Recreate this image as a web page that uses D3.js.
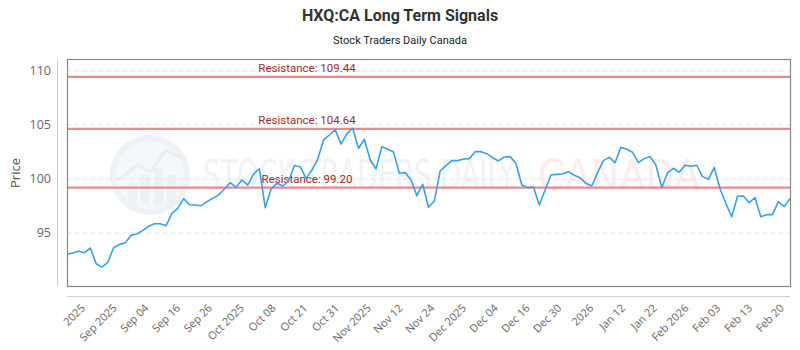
<!DOCTYPE html>
<html>
<head>
    <meta charset="UTF-8">
    <title>HXQ:CA Long Term Signals</title>
    <script src="https://d3js.org/d3.v7.min.js"></script>
    <style>
        body { margin: 0; background: #fff; }
        svg { display: block; }
        .title { font-family: Roboto, sans-serif; font-weight: bold; font-size: 16px; fill: #333; }
        .subtitle { font-family: Roboto, sans-serif; font-size: 11px; fill: #222; }
        .tick-label { font-family: "Open Sans", sans-serif; fill: #666; }
        .res-label { font-family: Roboto, sans-serif; font-size: 11.5px; fill: #a52a2a; }
    </style>
</head>
<body>
    <svg width="800" height="350"></svg>
    <script>
        // closing prices, one per trading day
        const prices = [
            93.03, 93.15, 93.31, 93.18, 93.61, 92.16, 91.85, 92.28, 93.64, 93.95,
            94.10, 94.79, 94.91, 95.25, 95.62, 95.86, 95.86, 95.68, 96.82, 97.28,
            98.18, 97.62, 97.60, 97.53, 97.90, 98.21, 98.52, 99.07, 99.66, 99.23,
            99.91, 99.44, 100.46, 100.93, 97.34, 99.07, 99.60, 99.35, 99.81, 101.24,
            101.14, 100.06, 100.83, 101.82, 103.61, 104.07, 104.54, 103.24, 104.17, 104.69,
            102.84, 103.67, 101.76, 100.93, 102.99, 102.75, 102.50, 100.53, 100.59, 99.91,
            98.46, 99.51, 97.38, 97.96, 100.74, 101.24, 101.70, 101.70, 101.85, 101.88,
            102.53, 102.53, 102.34, 101.97, 101.67, 102.04, 102.07, 101.45, 99.44, 99.20,
            99.26, 97.59, 98.98, 100.37, 100.43, 100.46, 100.68, 100.34, 100.12, 99.60,
            99.35, 100.59, 101.70, 102.00, 101.51, 102.93, 102.75, 102.47, 101.51, 101.88,
            102.07, 101.30, 99.20, 100.59, 100.99, 100.62, 101.27, 101.18, 101.27, 100.22,
            99.97, 101.08, 99.07, 97.75, 96.51, 98.40, 98.43, 97.81, 98.27, 96.51,
            96.70, 96.70, 97.90, 97.44, 98.21
        ];

        const xTickLabels = [
            "2025", "Sep 2025", "Sep 04", "Sep 16", "Sep 26", "Oct 2025", "Oct 08", "Oct 21",
            "Oct 31", "Nov 2025", "Nov 12", "Nov 24", "Dec 2025", "Dec 04", "Dec 16", "Dec 30",
            "2026", "Jan 12", "Jan 22", "Feb 2026", "Feb 03", "Feb 13", "Feb 20"
        ];

        const yTicks = [95, 100, 105, 110];
        const resistance = [109.44, 104.64, 99.20];

        const W = 800, H = 350;
        const plot = { left: 67, right: 790, top: 59, bottom: 286 };

        const svg = d3.select("svg");

        const x = d3.scaleLinear().domain([0, prices.length - 1]).range([plot.left, plot.right]);
        const y = d3.scaleLinear().domain([90.1, 111.1]).range([plot.bottom, plot.top]);
        const xt = d3.scalePoint().domain(xTickLabels).range([83, 782]);

        // titles
        svg.append("text").attr("class", "title")
            .attr("x", W / 2).attr("y", 21).attr("text-anchor", "middle")
            .text("HXQ:CA Long Term Signals");
        svg.append("text").attr("class", "subtitle")
            .attr("x", W / 2).attr("y", 44).attr("text-anchor", "middle")
            .text("Stock Traders Daily Canada");

        // watermark
        const wm = svg.append("g").attr("opacity", 0.55);
        wm.append("circle").attr("cx", 150).attr("cy", 175).attr("r", 37)
            .attr("fill", "#eef4f8").attr("stroke", "#dfe8ef").attr("stroke-width", 6);
        [[128, 18], [141, 26], [154, 34], [167, 26]].forEach(function (b) {
            wm.append("rect").attr("x", b[0]).attr("y", 205 - b[1] - 4)
                .attr("width", 9).attr("height", b[1] + 4).attr("fill", "#dde7ee");
        });
        wm.append("path").attr("d", "M118,180 L138,165 L150,172 L166,150 L184,160")
            .attr("fill", "none").attr("stroke", "#d6e1ea").attr("stroke-width", 3);
        wm.append("text").attr("x", 203).attr("y", 190)
            .attr("textLength", 312).attr("lengthAdjust", "spacingAndGlyphs")
            .style("font-family", "'DejaVu Sans Condensed', sans-serif").style("font-size", "42px")
            .attr("fill", "#e3ebf1").text("STOCK TRADERS DAILY");
        wm.append("text").attr("x", 538).attr("y", 190)
            .attr("textLength", 162).attr("lengthAdjust", "spacingAndGlyphs")
            .style("font-family", "'DejaVu Sans Condensed', sans-serif").style("font-size", "42px")
            .attr("fill", "#fbdede").text("CANADA");

        // grid
        svg.append("g").selectAll("line").data(yTicks).enter().append("line")
            .attr("x1", plot.left).attr("x2", plot.right)
            .attr("y1", d => y(d)).attr("y2", d => y(d))
            .attr("stroke", "#e2e2e2").attr("stroke-dasharray", "4,4");

        // axis lines (offset from the plot box)
        svg.append("line").attr("x1", 57.5).attr("x2", 57.5).attr("y1", plot.top).attr("y2", plot.bottom)
            .attr("stroke", "#cfcfcf");
        svg.append("line").attr("x1", plot.left).attr("x2", plot.right).attr("y1", 296.5).attr("y2", 296.5)
            .attr("stroke", "#cfcfcf");

        // y tick labels
        svg.append("g").selectAll("text").data(yTicks).enter().append("text")
            .attr("class", "tick-label").style("font-size", "12.5px")
            .attr("x", 51).attr("y", d => y(d)).attr("dy", "0.35em")
            .attr("text-anchor", "end").text(d => d);

        svg.append("text").attr("class", "tick-label")
            .style("font-size", "13px").style("fill", "#555")
            .attr("transform", "translate(20,173) rotate(-90)")
            .attr("text-anchor", "middle").text("Price");

        // x tick labels
        svg.append("g").selectAll("text").data(xTickLabels).enter().append("text")
            .attr("class", "tick-label").style("font-size", "11px")
            .attr("transform", d => "translate(" + xt(d) + ",306) rotate(-45)")
            .attr("dy", "0.35em").attr("text-anchor", "end").text(d => d);

        // resistance lines
        const res = svg.append("g");
        res.selectAll("line").data(resistance).enter().append("line")
            .attr("x1", plot.left).attr("x2", plot.right)
            .attr("y1", d => y(d)).attr("y2", d => y(d))
            .attr("stroke", "#eb8a8a").attr("stroke-width", 2.2);
        res.selectAll("text").data(resistance).enter().append("text")
            .attr("class", "res-label")
            .attr("x", 307).attr("y", d => y(d) - 5).attr("text-anchor", "middle")
            .text(d => "Resistance: " + d.toFixed(2));

        // price line
        const line = d3.line().x((d, i) => x(i)).y(d => y(d));
        svg.append("path").datum(prices)
            .attr("fill", "none").attr("stroke", "#36a2eb").attr("stroke-width", 1.6)
            .attr("stroke-linejoin", "round").attr("d", line);

        // plot border
        svg.append("rect").attr("x", plot.left + 0.5).attr("y", plot.top + 0.5)
            .attr("width", plot.right - plot.left).attr("height", plot.bottom - plot.top)
            .attr("fill", "none").attr("stroke", "#888").attr("stroke-width", 1.2);
    </script>
</body>
</html>
